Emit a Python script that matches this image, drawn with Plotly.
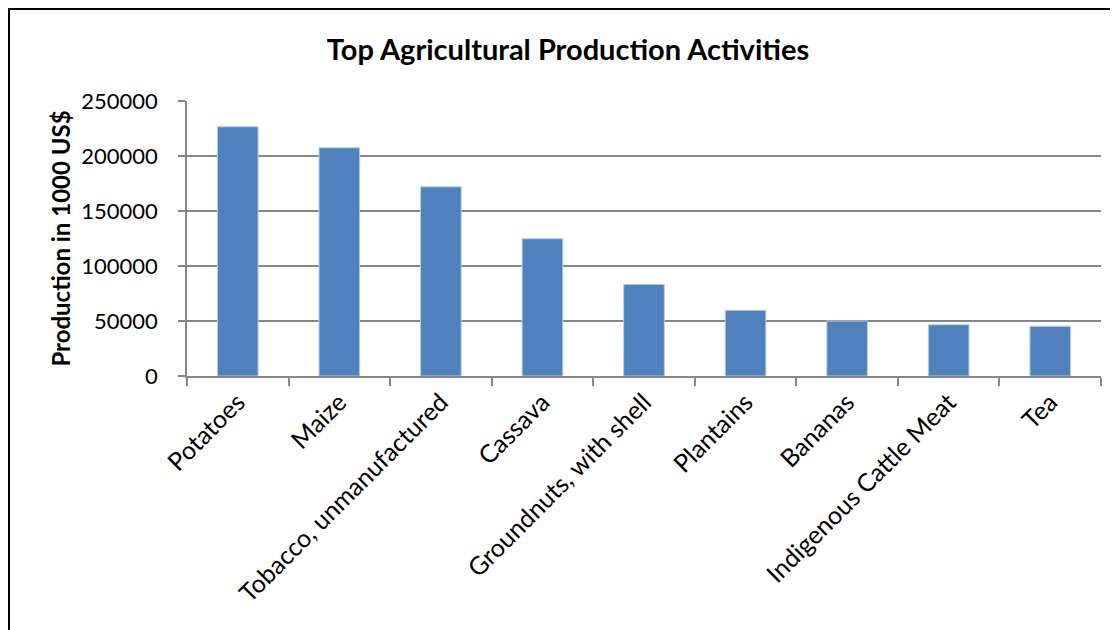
import plotly.graph_objects as go

categories = ["Potatoes", "Maize", "Tobacco, unmanufactured", "Cassava",
              "Groundnuts, with shell", "Plantains", "Bananas",
              "Indigenous Cattle Meat", "Tea"]
production = [226600, 207500, 172000, 124800, 83300, 59700, 50000, 46600, 45200]

title_text = "Top Agricultural Production Activities"
y_title = "Production in 1000 US$"
y_ticks = [0, 50000, 100000, 150000, 200000, 250000]

# page body has an 8px margin, so the figure is drawn 8px smaller
W, H = 1110, 622
ml, mr, mt, mb = 179, 17, 93, 254
pw, ph = W - ml - mr, H - mt - mb

fig = go.Figure()
fig.add_trace(go.Bar(
    x=categories, y=production,
    marker=dict(color="#4F81BD", line=dict(color="#B9CDE5", width=1)),
))

fontfam = "Lato, 'Open Sans', sans-serif"

fig.update_layout(
    width=W, height=H,
    margin=dict(l=ml, r=mr, t=mt, b=mb, autoexpand=False),
    paper_bgcolor="white", plot_bgcolor="white",
    bargap=0.6,
    showlegend=False,
    title=dict(text="<b>" + title_text + "</b>", x=560 / W, xanchor="center",
               y=1 - 42 / H, yanchor="middle",
               font=dict(family=fontfam, size=29, color="black")),
    font=dict(family=fontfam, color="black"),
)

fig.update_xaxes(
    type="category",
    tickangle=-45,
    tickfont=dict(family=fontfam, size=25, color="black"),
    showline=True, linecolor="#868686", linewidth=1.5,
    ticks="outside", ticklen=8, tickcolor="#868686", tickwidth=1.5,
    tickson="boundaries",
    showgrid=False,
)

fig.update_yaxes(
    range=[0, 250000],
    tickvals=y_ticks,
    ticktext=[str(v) for v in y_ticks],
    tickfont=dict(family=fontfam, size=22, color="black"),
    showline=True, linecolor="#868686", linewidth=1.5,
    ticks="outside", ticklen=7, tickcolor="#868686", tickwidth=1.5,
    showgrid=True, gridcolor="#868686", gridwidth=1.5,
    zeroline=False,
    ticklabelstandoff=16,
    title=dict(text="<b>" + y_title + "</b>", standoff=4,
               font=dict(family=fontfam, size=24, color="black")),
)

# outer chart border (Excel chart area frame)
x0 = (1 - ml) / pw
y1 = (H - mb - 1) / ph
fig.add_shape(type="rect", xref="paper", yref="paper",
              x0=x0, x1=(W + 20 - ml) / pw, y0=-(mb + 20) / ph, y1=y1,
              line=dict(color="black", width=2), fillcolor="rgba(0,0,0,0)",
              layer="below")

fig.write_html("out.html")
